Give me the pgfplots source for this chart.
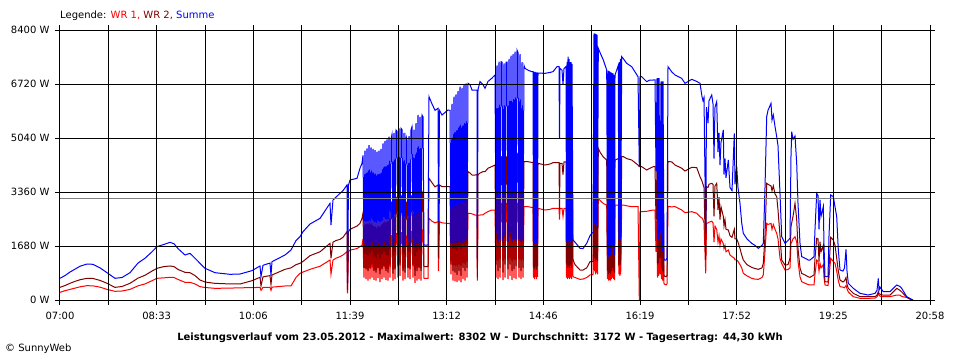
\documentclass[border=0pt]{standalone}
\usepackage{pgfplots}
\pgfplotsset{compat=1.18}
\usepackage{pgfplotstable}
\usepackage{fontspec}
\setmainfont{DejaVu Sans}
\definecolor{wra}{HTML}{FF0000}
\definecolor{wrb}{HTML}{800000}
\definecolor{wrs}{HTML}{0000FF}
\pgfplotstableread{
x r d b
0 239 394 675
5 290 450 760
10 330 520 870
15 370 580 960
20 410 630 1050
27 446 675 1120
33 440 670 1110
40 400 610 1000
47 330 520 850
55 270 394 675
62 280 420 700
70 330 520 850
78 440 680 1150
85 500 770 1300
92 600 900 1500
97 675 986 1660
104 690 1040 1730
110 706 1058 1794
114 700 1040 1750
118 640 950 1600
125 550 861 1400
130 550 850 1452
135 500 760 1300
140 415 622 1141
145 390 560 986
155 363 518 850
170 370 500 799
180 380 498 809
192 384 601 913
200 394 706 1058
201 300 436 726
203 394 720 1080
210 394 760 1150
211 300 480 760
212 400 778 1192
225 436 954 1400
231 436 1000 1555
236 700 1100 1850
240 830 1141 1970
243 870 1200 2125
250 954 1379 2364
260 1050 1500 2540
270 1244 1763 3008
271 800 1300 2333
273 1244 1800 3111
276 1300 1850 3200
280 1350 1887 3319
283 1400 1950 3400
287 1503 2125 3578
287.5 210 310 518
288.5 1503 2125 3578
290 1550 2200 3733
297 1600 2300 3785
300 1659 2385 4100
302 1700 2540 4252
303 1900 2700 4500
304 700 1000 1750
305 1950 2800 4650
306 650 950 1700
307 2000 2850 4719
308 600 900 1680
309 2000 2850 4822
310 650 1000 1700
311 1950 2800 4750
312 700 1100 1800
313 1950 2750 4700
314 620 900 1700
315 1900 2750 4666
316 600 850 1680
317 1950 2700 4614
318 680 1000 1750
319 1950 2750 4650
320 560 800 1680
321 2000 2800 4700
322 650 950 1700
323 2050 2850 4874
324 700 1050 1800
325 2000 2900 4950
326 620 900 1700
327 2050 2950 5000
328 600 850 1680
329 2050 3000 5081
330 700 1100 2000
331 2000 3000 5000
332 2000 3059 5150
333 600 820 1680
334 2050 3100 5200
335 650 950 1800
336 2074 3150 5289
337 2074 3200 5250
338 700 1100 1900
339 2074 3150 5341
340 750 1150 1700
341 2100 3250 5341
342 2100 3200 5300
343 600 900 1700
344 2074 3100 5200
345 650 850 1700
346 2000 3050 5100
347 1950 3000 4978
348 700 1000 1800
349 2000 3100 5100
350 650 950 1680
351 2100 3200 5300
352 2150 3250 5392
353 700 1100 1900
354 2100 3200 5300
355 530 750 1680
356 2150 3300 5500
357 600 900 1750
358 2178 3370 5756
359 650 1000 1750
360 2178 3350 5700
361 600 900 1700
362 2178 3370 5756
363 2178 3300 5700
364 675 1037 1711
368 675 1037 1711
369 2540 3785 6326
372 2450 3650 6100
375 2400 3520 5900
378 2437 3578 5963
378.5 900 1300 2437
379.5 2437 3578 5900
382 2400 3526 5756
388 2385 3526 5911
390 2385 3526 5900
391 800 1100 1763
392 2500 3700 6100
393 600 900 1763
394 2550 3800 6326
395 580 850 1763
396 2600 3850 6400
397 560 780 1763
398 2600 3900 6500
399 600 900 1800
400 2650 3993 6637
401 550 750 1763
402 2650 3993 6600
403 650 1000 1763
404 2700 3993 6700
405 600 900 1800
406 2696 3993 6741
407 700 1000 1900
408 2696 3993 6741
410 2696 3950 6700
412 2680 3889 6533
415 2644 3889 6533
417 2644 3900 6533
417.3 600 700 1244
418 2644 3900 6550
420 2644 3950 6792
423 2650 3993 6700
425 2700 3993 6585
428 2750 4100 6800
431.7 2800 4150 6896
435 2800 4200 7000
436 700 1100 2074
437 2950 4400 7300
438 650 900 1815
439 3008 4459 7415
440 700 1000 1900
441 3008 4459 7415
442 3000 4450 7400
443 620 850 1815
444 3008 4400 7363
445 700 1100 2000
446 3000 4450 7400
447 3000 4450 7400
448 650 950 1815
449 3008 4500 7500
450 750 1100 2100
451 3008 4550 7600
452 620 900 1815
453 3008 4563 7650
454 680 950 1900
455 3008 4563 7726
456 650 1050 1850
457 3008 4563 7778
458 3000 4500 7700
459 700 1000 1900
460 3000 4500 7650
461 650 900 1815
462 2950 4400 7400
463 700 1000 1850
464 2904 4304 7300
465 2904 4304 7207
468 2904 4304 7150
471.7 2880 4280 7104
473 2880 4280 7104
473.5 700 1000 1763
474 2870 4270 7100
474.5 650 950 1763
475 2870 4270 7100
475.5 720 1050 1800
476 2860 4260 7080
476.5 650 950 1763
477 2860 4260 7080
477.5 720 1050 1900
478 2850 4252 7060
485 2800 4200 7052
490 2820 4230 7080
493 2852 4273 7104
497 2852 4273 7259
499 2852 4273 7259
499.5 2500 2800 5030
500 2852 4252 7207
502 2852 4252 7150
503 2600 3900 6700
504 2852 4300 7200
506 2852 4300 7259
506.5 700 1100 1800
507 2900 4355 7400
507.5 650 1000 1700
508 2900 4355 7570
508.5 700 1050 1850
509 2950 4355 7500
509.5 650 1000 1700
510 2900 4300 7400
510.5 700 1100 1800
511 2900 4300 7400
511.5 650 1000 1750
512 2900 4300 7350
513 726 1244 1867
515 700 1100 1800
520 643 933 1608
523 650 933 1600
526.7 700 1000 1763
530 778 1192 2000
531.7 778 1192 2074
533 800 1200 2100
534 3319 4978 8297
534.5 900 1300 2400
535 3300 4950 8290
535.5 800 1200 2178
536 3280 4920 8270
536.5 850 1250 2300
537 3250 4900 8250
537.5 800 1200 2200
538.3 3163 4719 7830
540 3100 4600 7700
543.3 3000 4450 7467
546.7 2955 4355 7156
547.5 650 900 1600
548 2955 4350 7140
548.5 600 800 1348
549 2955 4350 7120
549.5 620 850 1400
550 2955 4300 7100
550.5 600 800 1400
551 2955 4300 7080
551.5 650 900 1500
552 2955 4300 7060
552.5 700 1000 1700
553 2955 4300 7050
553.5 650 900 1600
554 2955 4355 7000
554.5 620 850 1400
555 2955 4355 7000
558.3 2955 4400 7300
558.8 800 1100 1900
559.3 2955 4420 7400
559.8 750 1100 1800
560.3 2955 4440 7500
560.7 800 1100 1900
561.7 2955 4459 7570
563.5 2955 4459 7500
566.7 2930 4400 7363
571.7 2904 4355 7259
578 2904 4200 6948
579.3 0 4148 4148
580 2750 4148 6948
581.7 2748 4148 6948
586.7 2760 4044 6792
590 2780 4100 6844
593.3 2800 4148 6844
595 2800 4150 6850
596 1500 2500 4000
597 2800 4148 6900
597.5 700 1100 1800
598 2800 4148 6900
598.5 750 1150 1900
599 2800 4100 6900
600 800 1300 2100
601 2780 4100 6800
601.5 650 1000 1700
602 2780 4100 6800
602.5 600 900 1500
603 2780 4050 6800
604 500 750 1244
606 470 726 1244
607 500 760 1300
608 2904 4304 7259
611.7 2900 4300 7100
615 2904 4200 7000
621.7 2800 4100 6896
625 2717 4013 6741
631.7 2748 4128 6866
636.7 2700 4120 6800
640 2592 3837 6741
642 2550 3700 6326
643 2500 3600 6200
644 2400 3500 6300
645.7 830 1244 2074
646.5 2385 3526 6000
648 2400 3500 5500
649 2420 3600 6200
651.7 2450 3630 6378
653 2400 3600 6100
654 1800 2600 4400
655 2300 3550 6000
656.7 2200 3630 6170
658 1800 2800 4600
659 2000 3200 5200
660 1700 2500 4200
661 1900 2900 4900
663.3 1750 2600 5289
664 1600 2300 3900
665 1700 2500 4400
666 1500 2200 3800
668.3 1555 2178 4355
670 1400 2000 3500
672 1350 1950 3400
674.3 1300 2200 5185
675 1250 1900 3600
676.7 1244 1900 4148
678 1200 1800 3500
680 1100 1600 3000
681.7 1000 1400 2400
683.3 830 1244 2074
687 750 1100 1900
691.7 675 1016 1763
695 650 980 1700
698.3 643 954 1608
702 700 1000 1700
703.3 778 1141 1763
705 1500 2000 3500
706.7 2385 3630 5704
708 2350 3600 5900
711 2385 3550 6118
712 2200 3400 5600
713.3 2350 3550 5756
715 2200 3300 5400
716.7 2074 3215 5081
718 1900 2800 4800
720 1300 2000 3300
721.7 1141 1244 1970
725 933 1089 1763
728 950 1100 1850
730 1000 1300 1919
731 1763 2281 4500
731.7 1800 2400 5237
733 1900 2600 5000
735 1970 3008 5100
736.7 1800 2500 4252
738 1200 1600 3000
740 720 1000 1763
741.7 570 830 1348
745 520 780 1300
748.3 480 720 1244
750 467 706 1244
754 467 778 1348
755 800 1300 2200
756.7 1244 1919 3319
758 1200 1900 3250
759 900 1200 2200
760 1141 1815 3111
761 1000 1500 2600
763.3 1100 1700 2904
764 700 1000 1700
765 467 570 726
768 450 560 726
769 700 1000 2000
770.7 1296 1950 3267
773.3 1200 1867 3215
775 1141 1700 2900
776.7 900 1300 2592
778.3 600 900 1555
780 415 622 933
783 400 560 900
784.5 380 600 1000
786 450 700 1576
787 350 480 900
788.3 250 363 518
793.3 104 207 363
800 52 104 207
808.3 52 104 155
815 60 104 207
817 100 150 300
818.3 207 259 675
819 150 200 300
820 120 180 400
823.3 104 150 259
830 104 150 259
836.7 155 363 467
840 150 300 420
841.7 110 250 363
846.7 80 90 104
851.7 0 0 21
853 0 0 0
}\leistung
\begin{document}
\begin{tikzpicture}
\path[use as bounding box] (-60pt,-60pt) rectangle (900pt,300pt);
\begin{axis}[
  at={(0pt,0pt)}, anchor=south west,
  scale only axis, width=870pt, height=270pt,
  xmin=0, xmax=870, ymin=0, ymax=8400,
  xtick={0,48.333,96.667,145,193.333,241.667,290,338.333,386.667,435,483.333,531.667,580,628.333,676.667,725,773.333,821.667,870},
  xticklabels={07:00,,08:33,,10:06,,11:39,,13:12,,14:46,,16:19,,17:52,,19:25,,20:58},
  ytick={0,1680,3360,5040,6720,8400},
  yticklabels={0 W,1680 W,3360 W,5040 W,6720 W,8400 W},
  grid=major, grid style={black, line width=1pt},
  axis line style={black, line width=1pt},
  tick style={black, line width=1pt},
  tick align=outside, major tick length=5pt,
  ticklabel style={font=\fontsize{10}{12}\selectfont},
  xticklabel style={yshift=-4pt},
  yticklabel style={xshift=-2pt},
  axis on top,
  clip=true,
]
\addplot[wra, line width=1pt] table[x=x, y=r] {\leistung};
\addplot[wrb, line width=1pt] table[x=x, y=d] {\leistung};
\addplot[wrs, line width=1pt] table[x=x, y=b] {\leistung};
\addplot[gray, line width=1pt] coordinates {(0,3172) (870,3172)};
\end{axis}
\node[anchor=west, inner sep=0pt, font=\fontsize{10}{12}\selectfont] at (0pt,284pt) {Legende: \textcolor{wra}{WR 1,} \textcolor{wrb}{WR 2,} \textcolor{wrs}{Summe}};
\node[inner sep=0pt, font=\fontsize{10}{12}\selectfont\bfseries] at (420pt,-38pt) {Leistungsverlauf vom 23.05.2012 - Maximalwert: 8302 W - Durchschnitt: 3172 W - Tagesertrag: 44,30 kWh};
\node[anchor=west, inner sep=0pt, font=\fontsize{10}{12}\selectfont] at (-55pt,-49pt) {\textcopyright\ SunnyWeb};
\end{tikzpicture}
\end{document}
